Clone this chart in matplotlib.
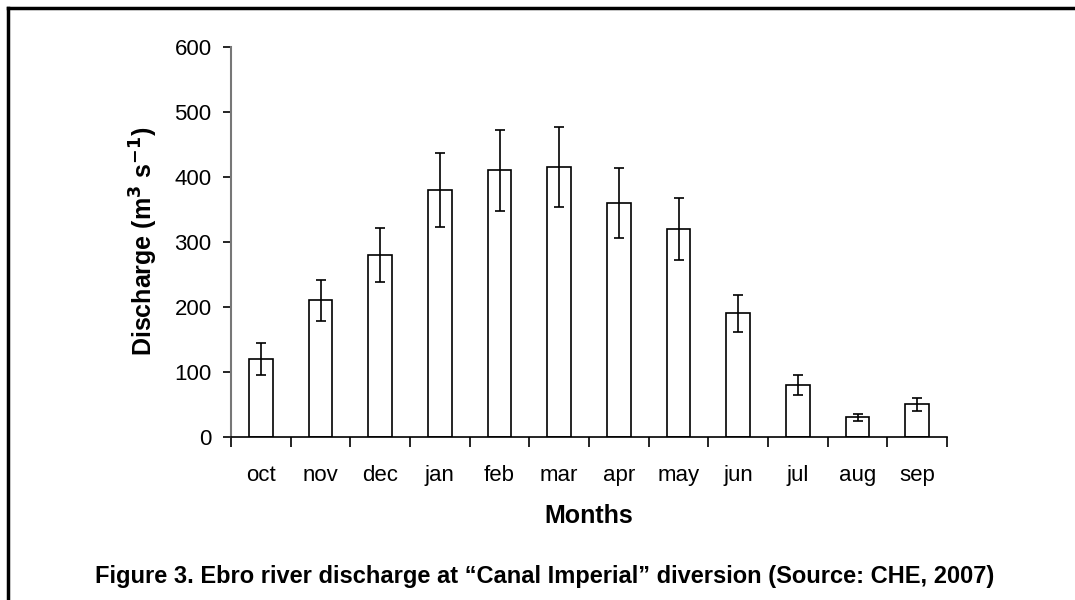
import matplotlib
matplotlib.use("Agg")
import matplotlib.pyplot as plt
from matplotlib.lines import Line2D

plt.rcParams['font.family'] = ['Liberation Sans', 'DejaVu Sans']

months = ["oct", "nov", "dec", "jan", "feb", "mar", "apr", "may", "jun", "jul", "aug", "sep"]
discharge = [120, 210, 280, 380, 410, 415, 360, 320, 190, 80, 30, 50]
errors = [24, 32, 42, 57, 62, 62, 54, 48, 28, 16, 6, 10]
yticks = [0, 100, 200, 300, 400, 500, 600]

fig = plt.figure(figsize=(10.75, 6.0), dpi=100)
ax = fig.add_axes([231/1075, 1 - 437/600, (947 - 231)/1075, (437 - 46.7)/600])

x = list(range(len(months)))
ax.bar(x, discharge, width=0.4, color="white", edgecolor="black", linewidth=1.2,
       yerr=errors, error_kw=dict(ecolor="black", elinewidth=1.2, capsize=3.5, capthick=1.2))

ax.set_xlim(-0.5, len(months) - 0.5)
ax.set_ylim(0, 600)
ax.set_yticks(yticks)
ax.set_yticklabels([str(v) for v in yticks])
ax.set_xticks(x)
ax.set_xticklabels(months)
ax.tick_params(axis='x', length=0, pad=20, labelsize=16)
ax.set_xticks([i + 0.5 for i in range(-1, len(months))], minor=True)
ax.tick_params(axis='x', which='minor', direction='out', length=7, width=1.2, color='black')
ax.tick_params(axis='y', direction='out', length=6, width=1.2, pad=8, labelsize=16, color='black')

for side in ['top', 'right']:
    ax.spines[side].set_visible(False)
ax.spines['left'].set_color('#777777')
ax.spines['left'].set_linewidth(1.5)
ax.spines['bottom'].set_color('black')
ax.spines['bottom'].set_linewidth(1.2)

ax.set_ylabel("Discharge (m$^{\\mathbf{3}}$ s$^{\\mathbf{-1}}$)", fontsize=18, fontweight='bold', labelpad=10)
ax.set_xlabel("Months", fontsize=18, fontweight='bold', labelpad=13)

fig.text(545/1075, 1 - 577/600,
         "Figure 3. Ebro river discharge at \u201cCanal Imperial\u201d diversion (Source: CHE, 2007)",
         ha='center', va='center', fontsize=17, fontweight='bold')

# figure frame (left and top edges)
fig.add_artist(Line2D([8/1075, 8/1075], [0, 1 - 8/600], transform=fig.transFigure, color='black', linewidth=2.5))
fig.add_artist(Line2D([8/1075, 1], [1 - 8/600, 1 - 8/600], transform=fig.transFigure, color='black', linewidth=2.5))

fig.savefig("out.png", dpi=100, facecolor="white")
